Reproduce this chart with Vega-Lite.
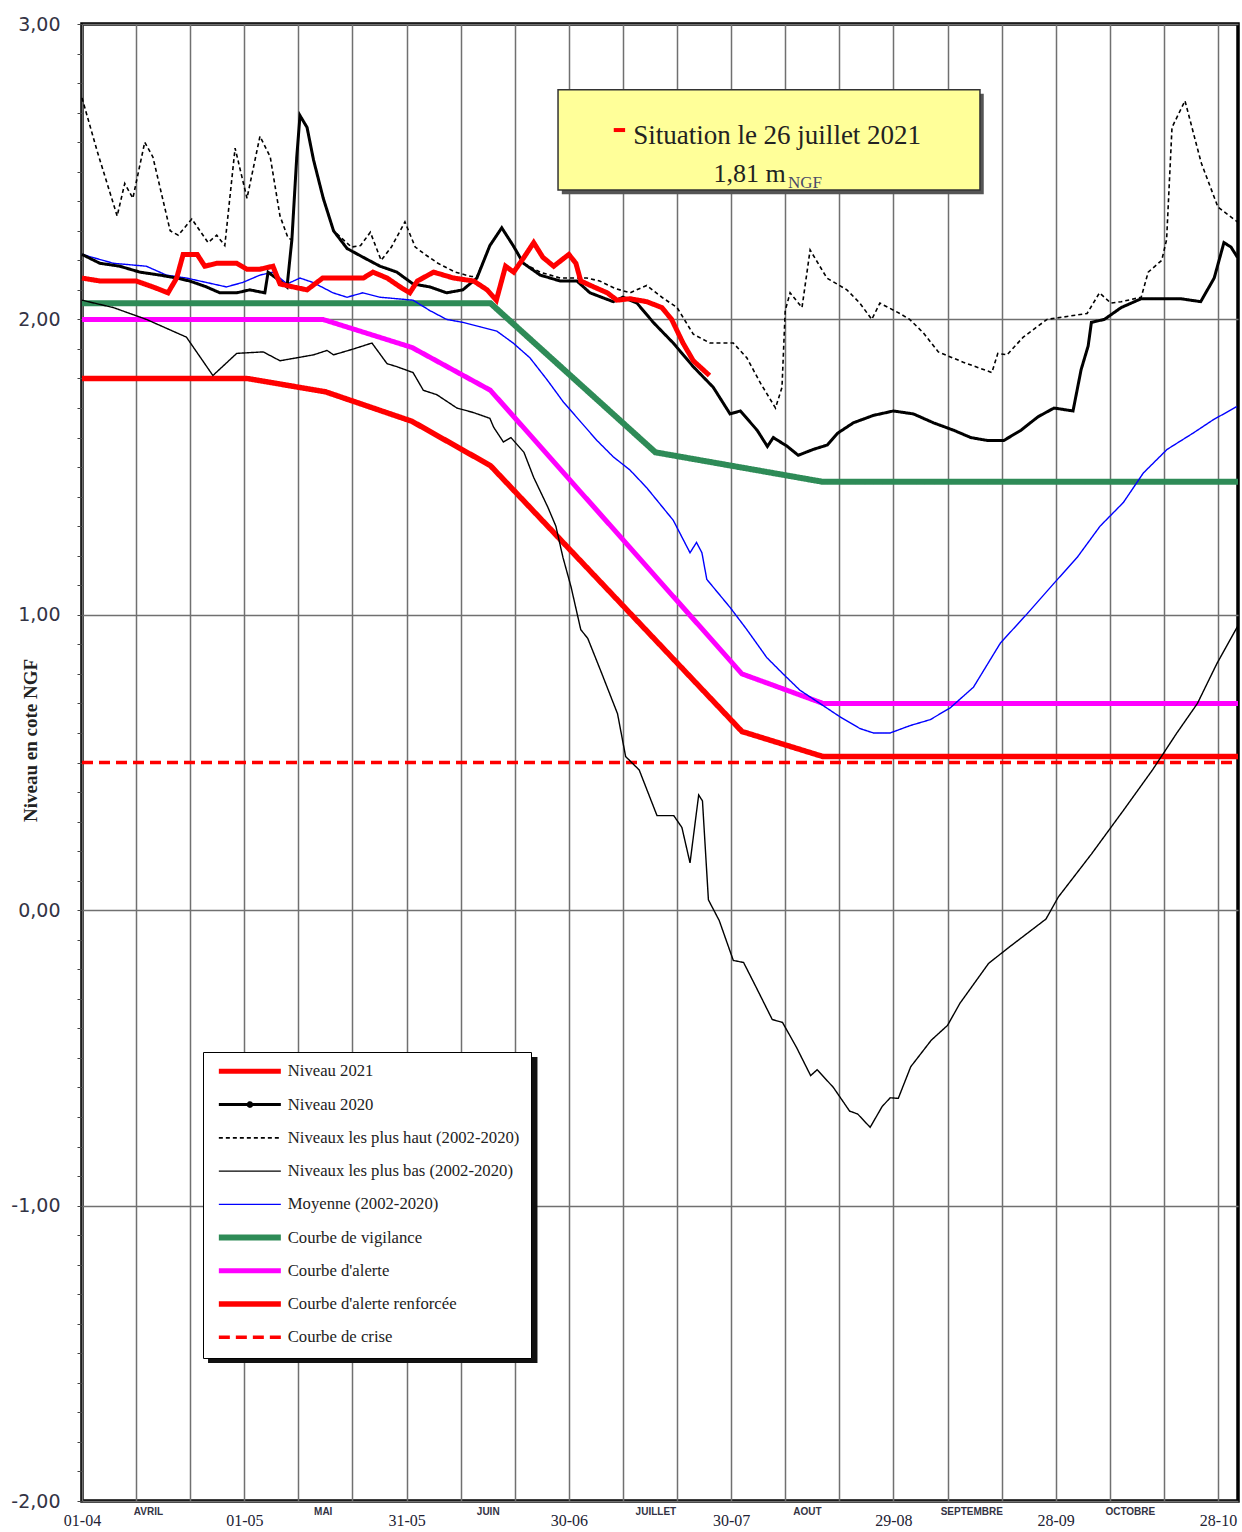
{
  "$schema": "https://vega.github.io/schema/vega-lite/v6.json",
  "width": 1156,
  "height": 1477,
  "autosize": {"type": "none"},
  "padding": {"left": 82, "top": 24, "right": 4, "bottom": 31},
  "background": "white",
  "config": {
    "view": {"stroke": "#000000", "strokeWidth": 3.5},
    "font": "Liberation Serif",
    "axis": {"labelFlush": false, "labelOverlap": false, "labelBound": false},
    "legend": {
      "orient": "none",
      "legendX": 121,
      "legendY": 1028,
      "padding": 11,
      "rowPadding": 8.25,
      "gridAlign": "all",
      "symbolType": "M-0.78,0H13",
      "symbolSize": 81,
      "labelOffset": 57,
      "labelFont": "Liberation Serif",
      "labelFontSize": 16.7,
      "labelColor": "#222222",
      "labelLimit": 0,
      "fillColor": "#ffffff",
      "strokeColor": "#000000"
    }
  },
  "datasets": {
    "niveaux": [
      {"serie": "Courbe de crise", "jour": 0, "niveau": 0.5},
      {"serie": "Courbe de crise", "jour": 213.7, "niveau": 0.5},
      {"serie": "Courbe d'alerte renforcée", "jour": 0, "niveau": 1.8},
      {"serie": "Courbe d'alerte renforcée", "jour": 30.5, "niveau": 1.8},
      {"serie": "Courbe d'alerte renforcée", "jour": 45, "niveau": 1.755},
      {"serie": "Courbe d'alerte renforcée", "jour": 61, "niveau": 1.655},
      {"serie": "Courbe d'alerte renforcée", "jour": 75.5, "niveau": 1.505},
      {"serie": "Courbe d'alerte renforcée", "jour": 122, "niveau": 0.605},
      {"serie": "Courbe d'alerte renforcée", "jour": 137, "niveau": 0.52},
      {"serie": "Courbe d'alerte renforcée", "jour": 213.7, "niveau": 0.52},
      {"serie": "Courbe d'alerte", "jour": 0, "niveau": 2.0},
      {"serie": "Courbe d'alerte", "jour": 44.5, "niveau": 2.0},
      {"serie": "Courbe d'alerte", "jour": 61, "niveau": 1.905},
      {"serie": "Courbe d'alerte", "jour": 75.5, "niveau": 1.76},
      {"serie": "Courbe d'alerte", "jour": 122, "niveau": 0.8},
      {"serie": "Courbe d'alerte", "jour": 137, "niveau": 0.7},
      {"serie": "Courbe d'alerte", "jour": 213.7, "niveau": 0.7},
      {"serie": "Courbe de vigilance", "jour": 0, "niveau": 2.055},
      {"serie": "Courbe de vigilance", "jour": 75.5, "niveau": 2.055},
      {"serie": "Courbe de vigilance", "jour": 106, "niveau": 1.55},
      {"serie": "Courbe de vigilance", "jour": 137, "niveau": 1.45},
      {"serie": "Courbe de vigilance", "jour": 213.7, "niveau": 1.45},
      {"serie": "Moyenne (2002-2020)", "jour": 0, "niveau": 2.22},
      {"serie": "Moyenne (2002-2020)", "jour": 5.8, "niveau": 2.19},
      {"serie": "Moyenne (2002-2020)", "jour": 11.9, "niveau": 2.18},
      {"serie": "Moyenne (2002-2020)", "jour": 15.6, "niveau": 2.15},
      {"serie": "Moyenne (2002-2020)", "jour": 19.3, "niveau": 2.14},
      {"serie": "Moyenne (2002-2020)", "jour": 23, "niveau": 2.125},
      {"serie": "Moyenne (2002-2020)", "jour": 26.7, "niveau": 2.11},
      {"serie": "Moyenne (2002-2020)", "jour": 29.7, "niveau": 2.125},
      {"serie": "Moyenne (2002-2020)", "jour": 32.9, "niveau": 2.15},
      {"serie": "Moyenne (2002-2020)", "jour": 35.3, "niveau": 2.16},
      {"serie": "Moyenne (2002-2020)", "jour": 37.9, "niveau": 2.12},
      {"serie": "Moyenne (2002-2020)", "jour": 40.3, "niveau": 2.14},
      {"serie": "Moyenne (2002-2020)", "jour": 42.7, "niveau": 2.125},
      {"serie": "Moyenne (2002-2020)", "jour": 46.4, "niveau": 2.09},
      {"serie": "Moyenne (2002-2020)", "jour": 49, "niveau": 2.075},
      {"serie": "Moyenne (2002-2020)", "jour": 51.9, "niveau": 2.09},
      {"serie": "Moyenne (2002-2020)", "jour": 55.1, "niveau": 2.075},
      {"serie": "Moyenne (2002-2020)", "jour": 58.2, "niveau": 2.07},
      {"serie": "Moyenne (2002-2020)", "jour": 61.2, "niveau": 2.065},
      {"serie": "Moyenne (2002-2020)", "jour": 64.3, "niveau": 2.03},
      {"serie": "Moyenne (2002-2020)", "jour": 67.4, "niveau": 2.0},
      {"serie": "Moyenne (2002-2020)", "jour": 70.4, "niveau": 1.99},
      {"serie": "Moyenne (2002-2020)", "jour": 73.6, "niveau": 1.975},
      {"serie": "Moyenne (2002-2020)", "jour": 76.7, "niveau": 1.96},
      {"serie": "Moyenne (2002-2020)", "jour": 79.7, "niveau": 1.92},
      {"serie": "Moyenne (2002-2020)", "jour": 82.8, "niveau": 1.87},
      {"serie": "Moyenne (2002-2020)", "jour": 86, "niveau": 1.795},
      {"serie": "Moyenne (2002-2020)", "jour": 89, "niveau": 1.72},
      {"serie": "Moyenne (2002-2020)", "jour": 92.1, "niveau": 1.655},
      {"serie": "Moyenne (2002-2020)", "jour": 95.2, "niveau": 1.59},
      {"serie": "Moyenne (2002-2020)", "jour": 98.2, "niveau": 1.535},
      {"serie": "Moyenne (2002-2020)", "jour": 101.3, "niveau": 1.49},
      {"serie": "Moyenne (2002-2020)", "jour": 104.4, "niveau": 1.43},
      {"serie": "Moyenne (2002-2020)", "jour": 109.3, "niveau": 1.32},
      {"serie": "Moyenne (2002-2020)", "jour": 112.4, "niveau": 1.21},
      {"serie": "Moyenne (2002-2020)", "jour": 113.6, "niveau": 1.245},
      {"serie": "Moyenne (2002-2020)", "jour": 114.6, "niveau": 1.21},
      {"serie": "Moyenne (2002-2020)", "jour": 115.5, "niveau": 1.12},
      {"serie": "Moyenne (2002-2020)", "jour": 119.8, "niveau": 1.025},
      {"serie": "Moyenne (2002-2020)", "jour": 122.9, "niveau": 0.95},
      {"serie": "Moyenne (2002-2020)", "jour": 126.6, "niveau": 0.855},
      {"serie": "Moyenne (2002-2020)", "jour": 129.6, "niveau": 0.8},
      {"serie": "Moyenne (2002-2020)", "jour": 132.7, "niveau": 0.745},
      {"serie": "Moyenne (2002-2020)", "jour": 136.4, "niveau": 0.7},
      {"serie": "Moyenne (2002-2020)", "jour": 140.1, "niveau": 0.655},
      {"serie": "Moyenne (2002-2020)", "jour": 143.8, "niveau": 0.615},
      {"serie": "Moyenne (2002-2020)", "jour": 146.3, "niveau": 0.6},
      {"serie": "Moyenne (2002-2020)", "jour": 149.4, "niveau": 0.6},
      {"serie": "Moyenne (2002-2020)", "jour": 153.1, "niveau": 0.625},
      {"serie": "Moyenne (2002-2020)", "jour": 156.8, "niveau": 0.645},
      {"serie": "Moyenne (2002-2020)", "jour": 160.5, "niveau": 0.685},
      {"serie": "Moyenne (2002-2020)", "jour": 164.8, "niveau": 0.755},
      {"serie": "Moyenne (2002-2020)", "jour": 169.8, "niveau": 0.905},
      {"serie": "Moyenne (2002-2020)", "jour": 174.8, "niveau": 1.005},
      {"serie": "Moyenne (2002-2020)", "jour": 179.6, "niveau": 1.105},
      {"serie": "Moyenne (2002-2020)", "jour": 184, "niveau": 1.195},
      {"serie": "Moyenne (2002-2020)", "jour": 188.2, "niveau": 1.3},
      {"serie": "Moyenne (2002-2020)", "jour": 192.5, "niveau": 1.38},
      {"serie": "Moyenne (2002-2020)", "jour": 196.2, "niveau": 1.48},
      {"serie": "Moyenne (2002-2020)", "jour": 200.6, "niveau": 1.56},
      {"serie": "Moyenne (2002-2020)", "jour": 205.4, "niveau": 1.615},
      {"serie": "Moyenne (2002-2020)", "jour": 209.1, "niveau": 1.66},
      {"serie": "Moyenne (2002-2020)", "jour": 213.5, "niveau": 1.705},
      {"serie": "Niveaux les plus bas (2002-2020)", "jour": 0, "niveau": 2.065},
      {"serie": "Niveaux les plus bas (2002-2020)", "jour": 5.8, "niveau": 2.04},
      {"serie": "Niveaux les plus bas (2002-2020)", "jour": 11.9, "niveau": 2.0},
      {"serie": "Niveaux les plus bas (2002-2020)", "jour": 19.3, "niveau": 1.94},
      {"serie": "Niveaux les plus bas (2002-2020)", "jour": 24.2, "niveau": 1.81},
      {"serie": "Niveaux les plus bas (2002-2020)", "jour": 28.6, "niveau": 1.885},
      {"serie": "Niveaux les plus bas (2002-2020)", "jour": 33.5, "niveau": 1.89},
      {"serie": "Niveaux les plus bas (2002-2020)", "jour": 36.6, "niveau": 1.86},
      {"serie": "Niveaux les plus bas (2002-2020)", "jour": 42.8, "niveau": 1.88},
      {"serie": "Niveaux les plus bas (2002-2020)", "jour": 45.3, "niveau": 1.895},
      {"serie": "Niveaux les plus bas (2002-2020)", "jour": 46.5, "niveau": 1.88},
      {"serie": "Niveaux les plus bas (2002-2020)", "jour": 50.2, "niveau": 1.9},
      {"serie": "Niveaux les plus bas (2002-2020)", "jour": 53.6, "niveau": 1.92},
      {"serie": "Niveaux les plus bas (2002-2020)", "jour": 56.4, "niveau": 1.85},
      {"serie": "Niveaux les plus bas (2002-2020)", "jour": 58.2, "niveau": 1.84},
      {"serie": "Niveaux les plus bas (2002-2020)", "jour": 61.2, "niveau": 1.82},
      {"serie": "Niveaux les plus bas (2002-2020)", "jour": 63.1, "niveau": 1.76},
      {"serie": "Niveaux les plus bas (2002-2020)", "jour": 65.6, "niveau": 1.745},
      {"serie": "Niveaux les plus bas (2002-2020)", "jour": 69.3, "niveau": 1.7},
      {"serie": "Niveaux les plus bas (2002-2020)", "jour": 72.3, "niveau": 1.685},
      {"serie": "Niveaux les plus bas (2002-2020)", "jour": 75.4, "niveau": 1.665},
      {"serie": "Niveaux les plus bas (2002-2020)", "jour": 76.1, "niveau": 1.635},
      {"serie": "Niveaux les plus bas (2002-2020)", "jour": 77.9, "niveau": 1.585},
      {"serie": "Niveaux les plus bas (2002-2020)", "jour": 79.3, "niveau": 1.6},
      {"serie": "Niveaux les plus bas (2002-2020)", "jour": 81.7, "niveau": 1.55},
      {"serie": "Niveaux les plus bas (2002-2020)", "jour": 83.5, "niveau": 1.465},
      {"serie": "Niveaux les plus bas (2002-2020)", "jour": 86.1, "niveau": 1.365},
      {"serie": "Niveaux les plus bas (2002-2020)", "jour": 87.6, "niveau": 1.3},
      {"serie": "Niveaux les plus bas (2002-2020)", "jour": 88.9, "niveau": 1.195},
      {"serie": "Niveaux les plus bas (2002-2020)", "jour": 90.4, "niveau": 1.095},
      {"serie": "Niveaux les plus bas (2002-2020)", "jour": 92.2, "niveau": 0.95},
      {"serie": "Niveaux les plus bas (2002-2020)", "jour": 93.5, "niveau": 0.92},
      {"serie": "Niveaux les plus bas (2002-2020)", "jour": 95.9, "niveau": 0.81},
      {"serie": "Niveaux les plus bas (2002-2020)", "jour": 99, "niveau": 0.665},
      {"serie": "Niveaux les plus bas (2002-2020)", "jour": 100.5, "niveau": 0.52},
      {"serie": "Niveaux les plus bas (2002-2020)", "jour": 103, "niveau": 0.475},
      {"serie": "Niveaux les plus bas (2002-2020)", "jour": 106.3, "niveau": 0.32},
      {"serie": "Niveaux les plus bas (2002-2020)", "jour": 109.4, "niveau": 0.32},
      {"serie": "Niveaux les plus bas (2002-2020)", "jour": 110.9, "niveau": 0.28},
      {"serie": "Niveaux les plus bas (2002-2020)", "jour": 112.4, "niveau": 0.16},
      {"serie": "Niveaux les plus bas (2002-2020)", "jour": 114, "niveau": 0.39},
      {"serie": "Niveaux les plus bas (2002-2020)", "jour": 114.7, "niveau": 0.37},
      {"serie": "Niveaux les plus bas (2002-2020)", "jour": 115.8, "niveau": 0.035},
      {"serie": "Niveaux les plus bas (2002-2020)", "jour": 117.8, "niveau": -0.035},
      {"serie": "Niveaux les plus bas (2002-2020)", "jour": 120.4, "niveau": -0.17},
      {"serie": "Niveaux les plus bas (2002-2020)", "jour": 122.3, "niveau": -0.177},
      {"serie": "Niveaux les plus bas (2002-2020)", "jour": 124.6, "niveau": -0.26},
      {"serie": "Niveaux les plus bas (2002-2020)", "jour": 127.6, "niveau": -0.37},
      {"serie": "Niveaux les plus bas (2002-2020)", "jour": 129.5, "niveau": -0.38},
      {"serie": "Niveaux les plus bas (2002-2020)", "jour": 132.1, "niveau": -0.465},
      {"serie": "Niveaux les plus bas (2002-2020)", "jour": 134.7, "niveau": -0.56},
      {"serie": "Niveaux les plus bas (2002-2020)", "jour": 135.9, "niveau": -0.54},
      {"serie": "Niveaux les plus bas (2002-2020)", "jour": 138.9, "niveau": -0.6},
      {"serie": "Niveaux les plus bas (2002-2020)", "jour": 141.9, "niveau": -0.68},
      {"serie": "Niveaux les plus bas (2002-2020)", "jour": 143.4, "niveau": -0.69},
      {"serie": "Niveaux les plus bas (2002-2020)", "jour": 145.7, "niveau": -0.735},
      {"serie": "Niveaux les plus bas (2002-2020)", "jour": 147.9, "niveau": -0.665},
      {"serie": "Niveaux les plus bas (2002-2020)", "jour": 149.4, "niveau": -0.635},
      {"serie": "Niveaux les plus bas (2002-2020)", "jour": 150.9, "niveau": -0.637},
      {"serie": "Niveaux les plus bas (2002-2020)", "jour": 153.2, "niveau": -0.53},
      {"serie": "Niveaux les plus bas (2002-2020)", "jour": 157, "niveau": -0.44},
      {"serie": "Niveaux les plus bas (2002-2020)", "jour": 160, "niveau": -0.39},
      {"serie": "Niveaux les plus bas (2002-2020)", "jour": 162.3, "niveau": -0.315},
      {"serie": "Niveaux les plus bas (2002-2020)", "jour": 167.6, "niveau": -0.18},
      {"serie": "Niveaux les plus bas (2002-2020)", "jour": 171.4, "niveau": -0.125},
      {"serie": "Niveaux les plus bas (2002-2020)", "jour": 178.2, "niveau": -0.03},
      {"serie": "Niveaux les plus bas (2002-2020)", "jour": 180.5, "niveau": 0.045},
      {"serie": "Niveaux les plus bas (2002-2020)", "jour": 186.6, "niveau": 0.19},
      {"serie": "Niveaux les plus bas (2002-2020)", "jour": 192.6, "niveau": 0.34},
      {"serie": "Niveaux les plus bas (2002-2020)", "jour": 197.9, "niveau": 0.475},
      {"serie": "Niveaux les plus bas (2002-2020)", "jour": 202.4, "niveau": 0.6},
      {"serie": "Niveaux les plus bas (2002-2020)", "jour": 206.2, "niveau": 0.7},
      {"serie": "Niveaux les plus bas (2002-2020)", "jour": 209.8, "niveau": 0.835},
      {"serie": "Niveaux les plus bas (2002-2020)", "jour": 213.6, "niveau": 0.96},
      {"serie": "Niveaux les plus haut (2002-2020)", "jour": 0, "niveau": 2.75},
      {"serie": "Niveaux les plus haut (2002-2020)", "jour": 2.8, "niveau": 2.57},
      {"serie": "Niveaux les plus haut (2002-2020)", "jour": 6.5, "niveau": 2.35},
      {"serie": "Niveaux les plus haut (2002-2020)", "jour": 7.9, "niveau": 2.46},
      {"serie": "Niveaux les plus haut (2002-2020)", "jour": 9.4, "niveau": 2.41},
      {"serie": "Niveaux les plus haut (2002-2020)", "jour": 11.6, "niveau": 2.6},
      {"serie": "Niveaux les plus haut (2002-2020)", "jour": 13.1, "niveau": 2.55},
      {"serie": "Niveaux les plus haut (2002-2020)", "jour": 16.3, "niveau": 2.3},
      {"serie": "Niveaux les plus haut (2002-2020)", "jour": 17.8, "niveau": 2.285},
      {"serie": "Niveaux les plus haut (2002-2020)", "jour": 20.3, "niveau": 2.34},
      {"serie": "Niveaux les plus haut (2002-2020)", "jour": 23.3, "niveau": 2.26},
      {"serie": "Niveaux les plus haut (2002-2020)", "jour": 24.9, "niveau": 2.285},
      {"serie": "Niveaux les plus haut (2002-2020)", "jour": 26.4, "niveau": 2.25},
      {"serie": "Niveaux les plus haut (2002-2020)", "jour": 28.3, "niveau": 2.58},
      {"serie": "Niveaux les plus haut (2002-2020)", "jour": 30.5, "niveau": 2.41},
      {"serie": "Niveaux les plus haut (2002-2020)", "jour": 32.9, "niveau": 2.62},
      {"serie": "Niveaux les plus haut (2002-2020)", "jour": 34.8, "niveau": 2.55},
      {"serie": "Niveaux les plus haut (2002-2020)", "jour": 36.6, "niveau": 2.35},
      {"serie": "Niveaux les plus haut (2002-2020)", "jour": 38.1, "niveau": 2.275},
      {"serie": "Niveaux les plus haut (2002-2020)", "jour": 38.8, "niveau": 2.27},
      {"serie": "Niveaux les plus haut (2002-2020)", "jour": 39.7, "niveau": 2.55},
      {"serie": "Niveaux les plus haut (2002-2020)", "jour": 40.3, "niveau": 2.69},
      {"serie": "Niveaux les plus haut (2002-2020)", "jour": 41.6, "niveau": 2.65},
      {"serie": "Niveaux les plus haut (2002-2020)", "jour": 42.8, "niveau": 2.54},
      {"serie": "Niveaux les plus haut (2002-2020)", "jour": 44.6, "niveau": 2.41},
      {"serie": "Niveaux les plus haut (2002-2020)", "jour": 46.5, "niveau": 2.3},
      {"serie": "Niveaux les plus haut (2002-2020)", "jour": 49.8, "niveau": 2.245},
      {"serie": "Niveaux les plus haut (2002-2020)", "jour": 51.5, "niveau": 2.25},
      {"serie": "Niveaux les plus haut (2002-2020)", "jour": 53.3, "niveau": 2.295},
      {"serie": "Niveaux les plus haut (2002-2020)", "jour": 55.3, "niveau": 2.2},
      {"serie": "Niveaux les plus haut (2002-2020)", "jour": 57.2, "niveau": 2.245},
      {"serie": "Niveaux les plus haut (2002-2020)", "jour": 59.7, "niveau": 2.33},
      {"serie": "Niveaux les plus haut (2002-2020)", "jour": 61.6, "niveau": 2.245},
      {"serie": "Niveaux les plus haut (2002-2020)", "jour": 63.4, "niveau": 2.22},
      {"serie": "Niveaux les plus haut (2002-2020)", "jour": 65.8, "niveau": 2.19},
      {"serie": "Niveaux les plus haut (2002-2020)", "jour": 69, "niveau": 2.16},
      {"serie": "Niveaux les plus haut (2002-2020)", "jour": 72, "niveau": 2.145},
      {"serie": "Niveaux les plus haut (2002-2020)", "jour": 73, "niveau": 2.145},
      {"serie": "Niveaux les plus haut (2002-2020)", "jour": 75.4, "niveau": 2.25},
      {"serie": "Niveaux les plus haut (2002-2020)", "jour": 77.6, "niveau": 2.31},
      {"serie": "Niveaux les plus haut (2002-2020)", "jour": 79.7, "niveau": 2.25},
      {"serie": "Niveaux les plus haut (2002-2020)", "jour": 81.6, "niveau": 2.19},
      {"serie": "Niveaux les plus haut (2002-2020)", "jour": 84.7, "niveau": 2.16},
      {"serie": "Niveaux les plus haut (2002-2020)", "jour": 88.4, "niveau": 2.14},
      {"serie": "Niveaux les plus haut (2002-2020)", "jour": 91.5, "niveau": 2.14},
      {"serie": "Niveaux les plus haut (2002-2020)", "jour": 93.3, "niveau": 2.14},
      {"serie": "Niveaux les plus haut (2002-2020)", "jour": 95.7, "niveau": 2.13},
      {"serie": "Niveaux les plus haut (2002-2020)", "jour": 98.5, "niveau": 2.105},
      {"serie": "Niveaux les plus haut (2002-2020)", "jour": 101.3, "niveau": 2.09},
      {"serie": "Niveaux les plus haut (2002-2020)", "jour": 104.4, "niveau": 2.115},
      {"serie": "Niveaux les plus haut (2002-2020)", "jour": 107.2, "niveau": 2.075},
      {"serie": "Niveaux les plus haut (2002-2020)", "jour": 110, "niveau": 2.04},
      {"serie": "Niveaux les plus haut (2002-2020)", "jour": 113, "niveau": 1.95},
      {"serie": "Niveaux les plus haut (2002-2020)", "jour": 116.1, "niveau": 1.92},
      {"serie": "Niveaux les plus haut (2002-2020)", "jour": 120.4, "niveau": 1.92},
      {"serie": "Niveaux les plus haut (2002-2020)", "jour": 122.9, "niveau": 1.87},
      {"serie": "Niveaux les plus haut (2002-2020)", "jour": 125.4, "niveau": 1.785},
      {"serie": "Niveaux les plus haut (2002-2020)", "jour": 128.2, "niveau": 1.7},
      {"serie": "Niveaux les plus haut (2002-2020)", "jour": 129.4, "niveau": 1.77},
      {"serie": "Niveaux les plus haut (2002-2020)", "jour": 130, "niveau": 2.03},
      {"serie": "Niveaux les plus haut (2002-2020)", "jour": 130.9, "niveau": 2.09},
      {"serie": "Niveaux les plus haut (2002-2020)", "jour": 133.1, "niveau": 2.04},
      {"serie": "Niveaux les plus haut (2002-2020)", "jour": 134.6, "niveau": 2.235},
      {"serie": "Niveaux les plus haut (2002-2020)", "jour": 137.7, "niveau": 2.14},
      {"serie": "Niveaux les plus haut (2002-2020)", "jour": 141.4, "niveau": 2.1},
      {"serie": "Niveaux les plus haut (2002-2020)", "jour": 143.8, "niveau": 2.055},
      {"serie": "Niveaux les plus haut (2002-2020)", "jour": 146, "niveau": 2.0},
      {"serie": "Niveaux les plus haut (2002-2020)", "jour": 147.5, "niveau": 2.055},
      {"serie": "Niveaux les plus haut (2002-2020)", "jour": 151.2, "niveau": 2.02},
      {"serie": "Niveaux les plus haut (2002-2020)", "jour": 153, "niveau": 2.0},
      {"serie": "Niveaux les plus haut (2002-2020)", "jour": 155.5, "niveau": 1.955},
      {"serie": "Niveaux les plus haut (2002-2020)", "jour": 158.3, "niveau": 1.89},
      {"serie": "Niveaux les plus haut (2002-2020)", "jour": 162.9, "niveau": 1.855},
      {"serie": "Niveaux les plus haut (2002-2020)", "jour": 168.2, "niveau": 1.82},
      {"serie": "Niveaux les plus haut (2002-2020)", "jour": 169.3, "niveau": 1.885},
      {"serie": "Niveaux les plus haut (2002-2020)", "jour": 171, "niveau": 1.88},
      {"serie": "Niveaux les plus haut (2002-2020)", "jour": 174, "niveau": 1.94},
      {"serie": "Niveaux les plus haut (2002-2020)", "jour": 178.4, "niveau": 2.0},
      {"serie": "Niveaux les plus haut (2002-2020)", "jour": 182.1, "niveau": 2.01},
      {"serie": "Niveaux les plus haut (2002-2020)", "jour": 185.8, "niveau": 2.02},
      {"serie": "Niveaux les plus haut (2002-2020)", "jour": 188.1, "niveau": 2.09},
      {"serie": "Niveaux les plus haut (2002-2020)", "jour": 190.2, "niveau": 2.055},
      {"serie": "Niveaux les plus haut (2002-2020)", "jour": 192.1, "niveau": 2.06},
      {"serie": "Niveaux les plus haut (2002-2020)", "jour": 195.8, "niveau": 2.075},
      {"serie": "Niveaux les plus haut (2002-2020)", "jour": 197.1, "niveau": 2.16},
      {"serie": "Niveaux les plus haut (2002-2020)", "jour": 199.6, "niveau": 2.2},
      {"serie": "Niveaux les plus haut (2002-2020)", "jour": 200.5, "niveau": 2.27},
      {"serie": "Niveaux les plus haut (2002-2020)", "jour": 201.5, "niveau": 2.65},
      {"serie": "Niveaux les plus haut (2002-2020)", "jour": 203.9, "niveau": 2.74},
      {"serie": "Niveaux les plus haut (2002-2020)", "jour": 206.9, "niveau": 2.53},
      {"serie": "Niveaux les plus haut (2002-2020)", "jour": 210, "niveau": 2.38},
      {"serie": "Niveaux les plus haut (2002-2020)", "jour": 213.6, "niveau": 2.33},
      {"serie": "Niveau 2020", "jour": 0, "niveau": 2.22},
      {"serie": "Niveau 2020", "jour": 3.3, "niveau": 2.19},
      {"serie": "Niveau 2020", "jour": 7, "niveau": 2.18},
      {"serie": "Niveau 2020", "jour": 10.7, "niveau": 2.16},
      {"serie": "Niveau 2020", "jour": 14.4, "niveau": 2.15},
      {"serie": "Niveau 2020", "jour": 17.5, "niveau": 2.14},
      {"serie": "Niveau 2020", "jour": 19.9, "niveau": 2.13},
      {"serie": "Niveau 2020", "jour": 23, "niveau": 2.11},
      {"serie": "Niveau 2020", "jour": 25.5, "niveau": 2.09},
      {"serie": "Niveau 2020", "jour": 28.6, "niveau": 2.09},
      {"serie": "Niveau 2020", "jour": 31, "niveau": 2.1},
      {"serie": "Niveau 2020", "jour": 33.8, "niveau": 2.09},
      {"serie": "Niveau 2020", "jour": 34.4, "niveau": 2.16},
      {"serie": "Niveau 2020", "jour": 36.6, "niveau": 2.13},
      {"serie": "Niveau 2020", "jour": 37.9, "niveau": 2.11},
      {"serie": "Niveau 2020", "jour": 38.8, "niveau": 2.27},
      {"serie": "Niveau 2020", "jour": 39.7, "niveau": 2.55},
      {"serie": "Niveau 2020", "jour": 40.3, "niveau": 2.69},
      {"serie": "Niveau 2020", "jour": 41.6, "niveau": 2.65},
      {"serie": "Niveau 2020", "jour": 42.8, "niveau": 2.54},
      {"serie": "Niveau 2020", "jour": 44.6, "niveau": 2.41},
      {"serie": "Niveau 2020", "jour": 46.5, "niveau": 2.3},
      {"serie": "Niveau 2020", "jour": 49, "niveau": 2.24},
      {"serie": "Niveau 2020", "jour": 52, "niveau": 2.21},
      {"serie": "Niveau 2020", "jour": 55.1, "niveau": 2.18},
      {"serie": "Niveau 2020", "jour": 58.2, "niveau": 2.16},
      {"serie": "Niveau 2020", "jour": 61.2, "niveau": 2.12},
      {"serie": "Niveau 2020", "jour": 64.3, "niveau": 2.11},
      {"serie": "Niveau 2020", "jour": 67.4, "niveau": 2.09},
      {"serie": "Niveau 2020", "jour": 70.4, "niveau": 2.1},
      {"serie": "Niveau 2020", "jour": 73, "niveau": 2.14},
      {"serie": "Niveau 2020", "jour": 75.4, "niveau": 2.25},
      {"serie": "Niveau 2020", "jour": 77.6, "niveau": 2.31},
      {"serie": "Niveau 2020", "jour": 79.7, "niveau": 2.25},
      {"serie": "Niveau 2020", "jour": 81.6, "niveau": 2.19},
      {"serie": "Niveau 2020", "jour": 84.7, "niveau": 2.15},
      {"serie": "Niveau 2020", "jour": 88.4, "niveau": 2.13},
      {"serie": "Niveau 2020", "jour": 91.5, "niveau": 2.13},
      {"serie": "Niveau 2020", "jour": 93.9, "niveau": 2.09},
      {"serie": "Niveau 2020", "jour": 98.2, "niveau": 2.06},
      {"serie": "Niveau 2020", "jour": 100, "niveau": 2.075},
      {"serie": "Niveau 2020", "jour": 102.6, "niveau": 2.055},
      {"serie": "Niveau 2020", "jour": 105.6, "niveau": 1.99},
      {"serie": "Niveau 2020", "jour": 109.3, "niveau": 1.92},
      {"serie": "Niveau 2020", "jour": 113, "niveau": 1.84},
      {"serie": "Niveau 2020", "jour": 116.7, "niveau": 1.77},
      {"serie": "Niveau 2020", "jour": 119.8, "niveau": 1.68},
      {"serie": "Niveau 2020", "jour": 121.7, "niveau": 1.69},
      {"serie": "Niveau 2020", "jour": 124.8, "niveau": 1.625},
      {"serie": "Niveau 2020", "jour": 126.7, "niveau": 1.57},
      {"serie": "Niveau 2020", "jour": 127.8, "niveau": 1.6},
      {"serie": "Niveau 2020", "jour": 130.4, "niveau": 1.57},
      {"serie": "Niveau 2020", "jour": 132.4, "niveau": 1.54},
      {"serie": "Niveau 2020", "jour": 135.2, "niveau": 1.56},
      {"serie": "Niveau 2020", "jour": 137.8, "niveau": 1.575},
      {"serie": "Niveau 2020", "jour": 139.7, "niveau": 1.615},
      {"serie": "Niveau 2020", "jour": 142.6, "niveau": 1.65},
      {"serie": "Niveau 2020", "jour": 146.3, "niveau": 1.675},
      {"serie": "Niveau 2020", "jour": 150, "niveau": 1.69},
      {"serie": "Niveau 2020", "jour": 153.7, "niveau": 1.68},
      {"serie": "Niveau 2020", "jour": 157.4, "niveau": 1.65},
      {"serie": "Niveau 2020", "jour": 161.1, "niveau": 1.625},
      {"serie": "Niveau 2020", "jour": 164.3, "niveau": 1.6},
      {"serie": "Niveau 2020", "jour": 167.4, "niveau": 1.59},
      {"serie": "Niveau 2020", "jour": 170.4, "niveau": 1.59},
      {"serie": "Niveau 2020", "jour": 173.6, "niveau": 1.625},
      {"serie": "Niveau 2020", "jour": 176.7, "niveau": 1.67},
      {"serie": "Niveau 2020", "jour": 179.7, "niveau": 1.7},
      {"serie": "Niveau 2020", "jour": 183.2, "niveau": 1.69},
      {"serie": "Niveau 2020", "jour": 184.7, "niveau": 1.83},
      {"serie": "Niveau 2020", "jour": 186, "niveau": 1.91},
      {"serie": "Niveau 2020", "jour": 186.6, "niveau": 1.99},
      {"serie": "Niveau 2020", "jour": 189, "niveau": 2.0},
      {"serie": "Niveau 2020", "jour": 192.1, "niveau": 2.04},
      {"serie": "Niveau 2020", "jour": 195.8, "niveau": 2.07},
      {"serie": "Niveau 2020", "jour": 200, "niveau": 2.07},
      {"serie": "Niveau 2020", "jour": 203.1, "niveau": 2.07},
      {"serie": "Niveau 2020", "jour": 206.8, "niveau": 2.06},
      {"serie": "Niveau 2020", "jour": 209.3, "niveau": 2.14},
      {"serie": "Niveau 2020", "jour": 211.1, "niveau": 2.26},
      {"serie": "Niveau 2020", "jour": 212.4, "niveau": 2.245},
      {"serie": "Niveau 2020", "jour": 213.6, "niveau": 2.21},
      {"serie": "Niveau 2021", "jour": 0, "niveau": 2.14},
      {"serie": "Niveau 2021", "jour": 3.3, "niveau": 2.13},
      {"serie": "Niveau 2021", "jour": 7.6, "niveau": 2.13},
      {"serie": "Niveau 2021", "jour": 10, "niveau": 2.13},
      {"serie": "Niveau 2021", "jour": 13.1, "niveau": 2.11},
      {"serie": "Niveau 2021", "jour": 15.9, "niveau": 2.09},
      {"serie": "Niveau 2021", "jour": 17.5, "niveau": 2.14},
      {"serie": "Niveau 2021", "jour": 18.7, "niveau": 2.22},
      {"serie": "Niveau 2021", "jour": 21.3, "niveau": 2.22},
      {"serie": "Niveau 2021", "jour": 22.7, "niveau": 2.18},
      {"serie": "Niveau 2021", "jour": 24.9, "niveau": 2.19},
      {"serie": "Niveau 2021", "jour": 28.6, "niveau": 2.19},
      {"serie": "Niveau 2021", "jour": 30.5, "niveau": 2.17},
      {"serie": "Niveau 2021", "jour": 32.9, "niveau": 2.17},
      {"serie": "Niveau 2021", "jour": 35.3, "niveau": 2.18},
      {"serie": "Niveau 2021", "jour": 36.6, "niveau": 2.12},
      {"serie": "Niveau 2021", "jour": 39, "niveau": 2.11},
      {"serie": "Niveau 2021", "jour": 41.6, "niveau": 2.1},
      {"serie": "Niveau 2021", "jour": 44.5, "niveau": 2.14},
      {"serie": "Niveau 2021", "jour": 52, "niveau": 2.14},
      {"serie": "Niveau 2021", "jour": 53.8, "niveau": 2.16},
      {"serie": "Niveau 2021", "jour": 56.4, "niveau": 2.14},
      {"serie": "Niveau 2021", "jour": 58.8, "niveau": 2.11},
      {"serie": "Niveau 2021", "jour": 60.6, "niveau": 2.09},
      {"serie": "Niveau 2021", "jour": 62, "niveau": 2.13},
      {"serie": "Niveau 2021", "jour": 65, "niveau": 2.16},
      {"serie": "Niveau 2021", "jour": 68.7, "niveau": 2.14},
      {"serie": "Niveau 2021", "jour": 72.4, "niveau": 2.13},
      {"serie": "Niveau 2021", "jour": 74.9, "niveau": 2.1},
      {"serie": "Niveau 2021", "jour": 76.6, "niveau": 2.065},
      {"serie": "Niveau 2021", "jour": 78.3, "niveau": 2.18},
      {"serie": "Niveau 2021", "jour": 79.8, "niveau": 2.16},
      {"serie": "Niveau 2021", "jour": 81.7, "niveau": 2.21},
      {"serie": "Niveau 2021", "jour": 83.5, "niveau": 2.26},
      {"serie": "Niveau 2021", "jour": 85.2, "niveau": 2.21},
      {"serie": "Niveau 2021", "jour": 87.2, "niveau": 2.18},
      {"serie": "Niveau 2021", "jour": 90, "niveau": 2.22},
      {"serie": "Niveau 2021", "jour": 91.3, "niveau": 2.19},
      {"serie": "Niveau 2021", "jour": 92.2, "niveau": 2.13},
      {"serie": "Niveau 2021", "jour": 94.6, "niveau": 2.11},
      {"serie": "Niveau 2021", "jour": 97.1, "niveau": 2.09},
      {"serie": "Niveau 2021", "jour": 98.9, "niveau": 2.065},
      {"serie": "Niveau 2021", "jour": 101.3, "niveau": 2.07},
      {"serie": "Niveau 2021", "jour": 104.4, "niveau": 2.06},
      {"serie": "Niveau 2021", "jour": 107.2, "niveau": 2.04},
      {"serie": "Niveau 2021", "jour": 109, "niveau": 2.0},
      {"serie": "Niveau 2021", "jour": 111.1, "niveau": 1.92},
      {"serie": "Niveau 2021", "jour": 113, "niveau": 1.86},
      {"serie": "Niveau 2021", "jour": 116, "niveau": 1.81}
    ]
  },
  "resolve": {"axis": {"x": "independent", "y": "independent"}},
  "layer": [
    {
      "data": {"values": [{}]},
      "mark": {"type": "rect", "color": "#111111"},
      "encoding": {
        "x": {"datum": 23.3, "type": "quantitative", "axis": null, "scale": {"domain": [0, 213.7], "nice": false, "zero": false}},
        "x2": {"datum": 84.2},
        "y": {"datum": -0.497, "type": "quantitative", "axis": null, "scale": {"domain": [-2, 3], "nice": false, "zero": false}},
        "y2": {"datum": -1.533}
      }
    },
    {
      "data": {"values": [{}]},
      "mark": {"type": "rect", "color": "#555555"},
      "encoding": {
        "x": {"datum": 88.7, "type": "quantitative", "axis": null, "scale": {"domain": [0, 213.7], "nice": false, "zero": false}},
        "x2": {"datum": 166.7},
        "y": {"datum": 2.764, "type": "quantitative", "axis": null, "scale": {"domain": [-2, 3], "nice": false, "zero": false}},
        "y2": {"datum": 2.424}
      }
    },
    {
      "data": {"values": [{}]},
      "mark": {"type": "rect", "fill": "#FFFF99", "stroke": "#333333", "strokeWidth": 1.5},
      "encoding": {
        "x": {
          "datum": 88.0,
          "type": "quantitative",
          "scale": {"domain": [0, 213.7], "nice": false, "zero": false},
          "axis": {
            "orient": "bottom",
            "values": [12.2, 44.5, 75, 106, 134, 164.4, 193.7],
            "labelExpr": "datum.value < 20 ? 'AVRIL' : datum.value < 50 ? 'MAI' : datum.value < 80 ? 'JUIN' : datum.value < 110 ? 'JUILLET' : datum.value < 140 ? 'AOUT' : datum.value < 170 ? 'SEPTEMBRE' : 'OCTOBRE'",
            "grid": false,
            "ticks": false,
            "domain": false,
            "title": null,
            "labelFont": "Liberation Sans",
            "labelFontSize": 10,
            "labelFontWeight": "bold",
            "labelColor": "#333344",
            "labelPadding": 5
          }
        },
        "x2": {"datum": 166.0},
        "y": {"datum": 2.777, "type": "quantitative", "axis": null, "scale": {"domain": [-2, 3], "nice": false, "zero": false}},
        "y2": {"datum": 2.438}
      }
    },
    {
      "data": {"name": "niveaux"},
      "mark": {"type": "line", "interpolate": "linear"},
      "encoding": {
        "x": {
          "field": "jour",
          "type": "quantitative",
          "scale": {"domain": [0, 213.7], "nice": false, "zero": false},
          "axis": {
            "orient": "bottom",
            "values": [0, 10, 20, 30, 40, 50, 60, 70, 80, 90, 100, 110, 120, 130, 140, 150, 160, 170, 180, 190, 200, 210],
            "labelExpr": "datum.value % 30 == 0 ? ['01-04','01-05','31-05','30-06','30-07','29-08','28-09','28-10'][datum.value / 30] : ''",
            "grid": true,
            "gridColor": "#707070",
            "gridWidth": 1.5,
            "ticks": false,
            "domain": false,
            "title": null,
            "labelFont": "Liberation Serif",
            "labelFontSize": 16,
            "labelColor": "#222233",
            "labelPadding": 11
          }
        },
        "y": {
          "field": "niveau",
          "type": "quantitative",
          "scale": {"domain": [-2, 3], "nice": false, "zero": false},
          "axis": {
            "orient": "left",
            "values": [-2, -1.9, -1.8, -1.7, -1.6, -1.5, -1.4, -1.3, -1.2, -1.1, -1, -0.9, -0.8, -0.7, -0.6, -0.5, -0.4, -0.3, -0.2, -0.1, 0, 0.1, 0.2, 0.3, 0.4, 0.5, 0.6, 0.7, 0.8, 0.9, 1, 1.1, 1.2, 1.3, 1.4, 1.5, 1.6, 1.7, 1.8, 1.9, 2, 2.1, 2.2, 2.3, 2.4, 2.5, 2.6, 2.7, 2.8, 2.9, 3],
            "labelExpr": "abs(datum.value - round(datum.value)) < 0.001 ? replace(replace(format(datum.value, '.2f'), '.', ','), '\u2212', '-') : ''",
            "grid": true,
            "gridColor": "#707070",
            "gridWidth": 1.5,
            "gridOpacity": {"condition": {"test": "abs(datum.value - round(datum.value)) < 0.001", "value": 1}, "value": 0},
            "tickSize": 5,
            "tickColor": "#444444",
            "domain": false,
            "labelFont": "DejaVu Sans",
            "labelFontSize": 19,
            "labelColor": "#333344",
            "labelPadding": 17,
            "title": "Niveau en cote NGF",
            "titleFont": "Liberation Serif",
            "titleFontSize": 19,
            "titleFontWeight": "bold",
            "titleColor": "#222222",
            "titleX": -52,
            "titleY": 716,
            "titleAngle": 270,
            "titleBaseline": "middle",
            "titleAlign": "center"
          }
        },
        "color": {
          "field": "serie",
          "type": "nominal",
          "scale": {
            "domain": ["Niveau 2021", "Niveau 2020", "Niveaux les plus haut (2002-2020)", "Niveaux les plus bas (2002-2020)", "Moyenne (2002-2020)", "Courbe de vigilance", "Courbe d'alerte", "Courbe d'alerte renforcée", "Courbe de crise"],
            "range": ["#FF0000", "#000000", "#000000", "#000000", "#0000FF", "#2E8B57", "#FF00FF", "#FF0000", "#FF0000"]
          },
          "legend": {
            "title": null,
            "encode": {
              "symbols": {
                "update": {
                  "shape": {"signal": "datum.value === 'Niveau 2020' ? 'M-0.78,0H13M6.51,0A0.4,0.4 0 1,1 5.71,0A0.4,0.4 0 1,1 6.51,0' : 'M-0.78,0H13'"}
                }
              }
            }
          }
        },
        "strokeDash": {
          "field": "serie",
          "type": "nominal",
          "scale": {
            "domain": ["Niveau 2021", "Niveau 2020", "Niveaux les plus haut (2002-2020)", "Niveaux les plus bas (2002-2020)", "Moyenne (2002-2020)", "Courbe de vigilance", "Courbe d'alerte", "Courbe d'alerte renforcée", "Courbe de crise"],
            "range": [[1, 0], [1, 0], [4, 3], [1, 0], [1, 0], [1, 0], [1, 0], [1, 0], [11, 6]]
          },
          "legend": {"title": null}
        },
        "strokeWidth": {
          "field": "serie",
          "type": "nominal",
          "scale": {
            "type": "ordinal",
            "domain": ["Niveau 2021", "Niveau 2020", "Niveaux les plus haut (2002-2020)", "Niveaux les plus bas (2002-2020)", "Moyenne (2002-2020)", "Courbe de vigilance", "Courbe d'alerte", "Courbe d'alerte renforcée", "Courbe de crise"],
            "range": [5, 3, 1.6, 1.4, 1.4, 6, 5, 5.5, 3.5]
          },
          "legend": {"title": null}
        }
      }
    },
    {
      "data": {"values": [{}]},
      "mark": {"type": "rule", "color": "#FF0000", "strokeWidth": 4},
      "encoding": {
        "x": {"datum": 98.3, "type": "quantitative", "axis": null, "scale": {"domain": [0, 213.7], "nice": false, "zero": false}},
        "x2": {"datum": 100.4},
        "y": {"datum": 2.641, "type": "quantitative", "axis": null, "scale": {"domain": [-2, 3], "nice": false, "zero": false}}
      }
    },
    {
      "data": {"values": [{}]},
      "mark": {"type": "text", "text": "Situation le 26 juillet 2021", "font": "Liberation Serif", "fontSize": 27, "color": "#222222", "align": "center", "baseline": "alphabetic"},
      "encoding": {
        "x": {"datum": 128.5, "type": "quantitative", "axis": null, "scale": {"domain": [0, 213.7], "nice": false, "zero": false}},
        "y": {"datum": 2.594, "type": "quantitative", "axis": null, "scale": {"domain": [-2, 3], "nice": false, "zero": false}}
      }
    },
    {
      "data": {"values": [{}]},
      "mark": {"type": "text", "text": "1,81 m", "font": "Liberation Serif", "fontSize": 26, "color": "#222222", "align": "right", "baseline": "alphabetic"},
      "encoding": {
        "x": {"datum": 130.1, "type": "quantitative", "axis": null, "scale": {"domain": [0, 213.7], "nice": false, "zero": false}},
        "y": {"datum": 2.465, "type": "quantitative", "axis": null, "scale": {"domain": [-2, 3], "nice": false, "zero": false}}
      }
    },
    {
      "data": {"values": [{}]},
      "mark": {"type": "text", "text": "NGF", "font": "Liberation Serif", "fontSize": 17, "color": "#4A4A6A", "align": "left", "baseline": "alphabetic"},
      "encoding": {
        "x": {"datum": 130.5, "type": "quantitative", "axis": null, "scale": {"domain": [0, 213.7], "nice": false, "zero": false}},
        "y": {"datum": 2.445, "type": "quantitative", "axis": null, "scale": {"domain": [-2, 3], "nice": false, "zero": false}}
      }
    }
  ]
}
